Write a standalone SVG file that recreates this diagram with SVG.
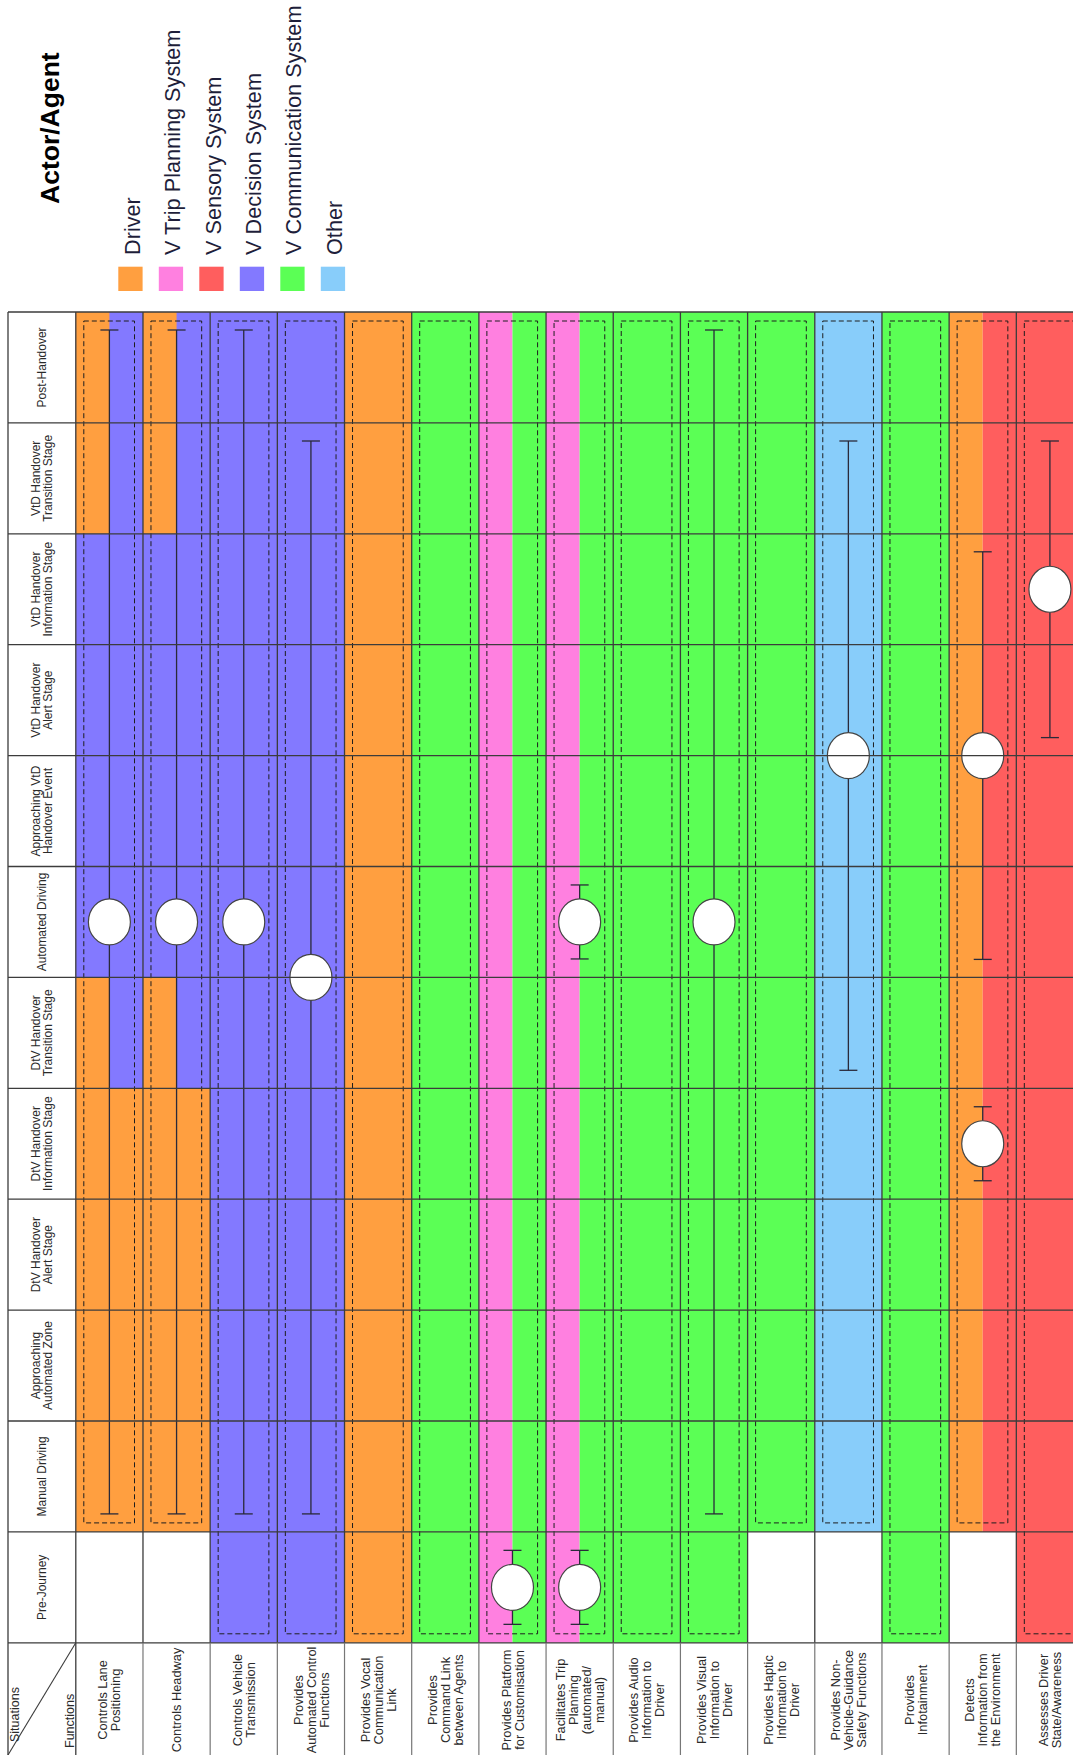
<svg xmlns="http://www.w3.org/2000/svg" width="1073" height="1755" viewBox="0 0 1073 1755">
<style>
.or{fill:#FF9F40}.pk{fill:#FF80E0}.rd{fill:#FF5E5E}.pu{fill:#8379FF}.gr{fill:#5BFF55}.lb{fill:#88CDFA}
.grid{stroke:#3c3c3c;stroke-width:1.3;fill:none}
.hsep{stroke:#777;stroke-width:1.2;fill:none}
.dash{fill:none;stroke:#1e1e1e;stroke-width:1;stroke-dasharray:5,3}
.conn line{stroke:#2a2a3a;stroke-width:1.3}
.mk{fill:#fff;stroke:#444;stroke-width:1.2}
.lg{font-family:"Liberation Sans",Arial,sans-serif;font-size:21.7px;fill:#1e1e3a}
.title{font-family:"Liberation Sans",Arial,sans-serif;font-size:26.5px;font-weight:bold;fill:#000}
.rl{font-family:"Liberation Sans",Arial,sans-serif;font-size:12px;fill:#2a2a2a;text-anchor:middle}
.hl{font-family:"Liberation Sans",Arial,sans-serif;font-size:12.8px;fill:#2a2a2a;text-anchor:middle}
.sf{font-family:"Liberation Sans",Arial,sans-serif;font-size:12.5px;fill:#2a2a2a}
</style>
<rect x="0" y="0" width="1073" height="1755" fill="#fff"/>

<g id="legend">
<text class="title" transform="translate(59,204) rotate(-90)">Actor/Agent</text>
<rect class="or" x="118.3" y="266.7" width="24.3" height="24.3"/>
<rect class="pk" x="158.8" y="266.7" width="24.3" height="24.3"/>
<rect class="rd" x="199.3" y="266.7" width="24.3" height="24.3"/>
<rect class="pu" x="239.8" y="266.7" width="24.3" height="24.3"/>
<rect class="gr" x="280.3" y="266.7" width="24.3" height="24.3"/>
<rect class="lb" x="320.8" y="266.7" width="24.3" height="24.3"/>
<text class="lg" transform="translate(140,255) rotate(-90)">Driver</text>
<text class="lg" transform="translate(180.4,255) rotate(-90)">V Trip Planning System</text>
<text class="lg" transform="translate(220.7,255) rotate(-90)">V Sensory System</text>
<text class="lg" transform="translate(261.1,255) rotate(-90)">V Decision System</text>
<text class="lg" transform="translate(301.4,255) rotate(-90)">V Communication System</text>
<text class="lg" transform="translate(341.7,255) rotate(-90)">Other</text>
</g>

<g id="cells">
<g id="col-lane">
<rect class="pu" x="75.8" y="312" width="67.18" height="776.3"/>
<rect class="or" x="75.8" y="312" width="33.59" height="221.8"/>
<rect class="or" x="75.8" y="977.4" width="33.59" height="110.9"/>
<rect class="or" x="75.8" y="1088.3" width="67.18" height="443.6"/>
</g>
<g id="col-headway">
<rect class="pu" x="142.98" y="312" width="67.18" height="776.3"/>
<rect class="or" x="142.98" y="312" width="33.59" height="221.8"/>
<rect class="or" x="142.98" y="977.4" width="33.59" height="110.9"/>
<rect class="or" x="142.98" y="1088.3" width="67.18" height="443.6"/>
</g>
<rect id="col-transmission" class="pu" x="210.16" y="312" width="67.18" height="1330.8"/>
<rect id="col-automated" class="pu" x="277.34" y="312" width="67.18" height="1330.8"/>
<rect id="col-vocal" class="or" x="344.52" y="312" width="67.18" height="1330.8"/>
<rect id="col-command" class="gr" x="411.7" y="312" width="67.18" height="1330.8"/>
<g id="col-platform">
<rect class="pk" x="478.88" y="312" width="33.59" height="1330.8"/>
<rect class="gr" x="512.47" y="312" width="33.59" height="1330.8"/>
</g>
<g id="col-trip">
<rect class="pk" x="546.06" y="312" width="33.59" height="1330.8"/>
<rect class="gr" x="579.65" y="312" width="33.59" height="1330.8"/>
</g>
<rect id="col-audio" class="gr" x="613.24" y="312" width="67.18" height="1330.8"/>
<rect id="col-visual" class="gr" x="680.42" y="312" width="67.18" height="1330.8"/>
<rect id="col-haptic" class="gr" x="747.6" y="312" width="67.18" height="1219.9"/>
<rect id="col-safety" class="lb" x="814.78" y="312" width="67.18" height="1219.9"/>
<rect id="col-infotainment" class="gr" x="881.96" y="312" width="67.18" height="1330.8"/>
<g id="col-detects">
<rect class="or" x="949.14" y="312" width="33.59" height="1219.9"/>
<rect class="rd" x="982.73" y="312" width="33.59" height="1219.9"/>
</g>
<rect id="col-assesses" class="rd" x="1016.32" y="312" width="67.18" height="1330.8"/>
</g>

<g id="scopes">
<rect class="dash" x="83.8" y="321" width="50.7" height="1201.9"/>
<rect class="dash" x="150.98" y="321" width="50.7" height="1201.9"/>
<rect class="dash" x="218.16" y="321" width="50.7" height="1312.8"/>
<rect class="dash" x="285.34" y="321" width="50.7" height="1312.8"/>
<rect class="dash" x="352.52" y="321" width="50.7" height="1312.8"/>
<rect class="dash" x="419.7" y="321" width="50.7" height="1312.8"/>
<rect class="dash" x="486.88" y="321" width="50.7" height="1312.8"/>
<rect class="dash" x="554.06" y="321" width="50.7" height="1312.8"/>
<rect class="dash" x="621.24" y="321" width="50.7" height="1312.8"/>
<rect class="dash" x="688.42" y="321" width="50.7" height="1312.8"/>
<rect class="dash" x="755.6" y="321" width="50.7" height="1201.9"/>
<rect class="dash" x="822.78" y="321" width="50.7" height="1201.9"/>
<rect class="dash" x="889.96" y="321" width="50.7" height="1312.8"/>
<rect class="dash" x="957.14" y="321" width="50.7" height="1201.9"/>
<rect class="dash" x="1024.32" y="321" width="50.7" height="1312.8"/>
</g>

<g id="connectors" class="conn">
<line x1="109.39" y1="330" x2="109.39" y2="1513.9"/><line x1="100.4" y1="330" x2="118.4" y2="330"/><line x1="100.4" y1="1513.9" x2="118.4" y2="1513.9"/>
<line x1="176.57" y1="330" x2="176.57" y2="1513.9"/><line x1="167.6" y1="330" x2="185.6" y2="330"/><line x1="167.6" y1="1513.9" x2="185.6" y2="1513.9"/>
<line x1="243.75" y1="330" x2="243.75" y2="1513.9"/><line x1="234.75" y1="330" x2="252.75" y2="330"/><line x1="234.75" y1="1513.9" x2="252.75" y2="1513.9"/>
<line x1="310.93" y1="441" x2="310.93" y2="1513.9"/><line x1="301.93" y1="441" x2="319.93" y2="441"/><line x1="301.93" y1="1513.9" x2="319.93" y2="1513.9"/>
<line x1="512.47" y1="1550.35" x2="512.47" y2="1624.35"/><line x1="503.47" y1="1550.35" x2="521.47" y2="1550.35"/><line x1="503.47" y1="1624.35" x2="521.47" y2="1624.35"/>
<line x1="579.65" y1="884.95" x2="579.65" y2="958.95"/><line x1="570.65" y1="884.95" x2="588.65" y2="884.95"/><line x1="570.65" y1="958.95" x2="588.65" y2="958.95"/>
<line x1="579.65" y1="1550.35" x2="579.65" y2="1624.35"/><line x1="570.65" y1="1550.35" x2="588.65" y2="1550.35"/><line x1="570.65" y1="1624.35" x2="588.65" y2="1624.35"/>
<line x1="714.01" y1="330" x2="714.01" y2="1513.9"/><line x1="705.01" y1="330" x2="723.01" y2="330"/><line x1="705.01" y1="1513.9" x2="723.01" y2="1513.9"/>
<line x1="848.37" y1="441" x2="848.37" y2="1070.3"/><line x1="839.37" y1="441" x2="857.37" y2="441"/><line x1="839.37" y1="1070.3" x2="857.37" y2="1070.3"/>
<line x1="982.73" y1="551.8" x2="982.73" y2="959.4"/><line x1="973.73" y1="551.8" x2="991.73" y2="551.8"/><line x1="973.73" y1="959.4" x2="991.73" y2="959.4"/>
<line x1="982.73" y1="1106.75" x2="982.73" y2="1180.75"/><line x1="973.73" y1="1106.75" x2="991.73" y2="1106.75"/><line x1="973.73" y1="1180.75" x2="991.73" y2="1180.75"/>
<line x1="1049.91" y1="441" x2="1049.91" y2="737.6"/><line x1="1040.91" y1="441" x2="1058.91" y2="441"/><line x1="1040.91" y1="737.6" x2="1058.91" y2="737.6"/>
</g>

<g id="markers">
<g id="m-lane"><ellipse class="mk" cx="109.39" cy="921.95" rx="21" ry="23"/></g>
<g id="m-headway"><ellipse class="mk" cx="176.57" cy="921.95" rx="21" ry="23"/></g>
<g id="m-transmission"><ellipse class="mk" cx="243.75" cy="921.95" rx="21" ry="23"/></g>
<g id="m-automated"><ellipse class="mk" cx="310.93" cy="977.4" rx="21" ry="23"/></g>
<g id="m-platform"><ellipse class="mk" cx="512.47" cy="1587.35" rx="21" ry="23"/></g>
<g id="m-trip-auto"><ellipse class="mk" cx="579.65" cy="921.95" rx="21" ry="23"/></g>
<g id="m-trip-pre"><ellipse class="mk" cx="579.65" cy="1587.35" rx="21" ry="23"/></g>
<g id="m-visual"><ellipse class="mk" cx="714.01" cy="921.95" rx="21" ry="23"/></g>
<g id="m-safety"><ellipse class="mk" cx="848.37" cy="755.6" rx="21" ry="23"/></g>
<g id="m-detects-1"><ellipse class="mk" cx="982.73" cy="755.6" rx="21" ry="23"/></g>
<g id="m-detects-2"><ellipse class="mk" cx="982.73" cy="1143.75" rx="21" ry="23"/></g>
<g id="m-assesses"><ellipse class="mk" cx="1049.91" cy="589.25" rx="21" ry="23"/></g>
</g>

<g id="grid">
<path class="grid" d="M8,312H1083.5M8,422.9H1083.5M8,533.8H1083.5M8,644.7H1083.5M8,755.6H1083.5M8,866.5H1083.5M8,977.4H1083.5M8,1088.3H1083.5M8,1199.2H1083.5M8,1310.1H1083.5M8,1421H1083.5M8,1531.9H1083.5M8,1642.8H1083.5"/>
<path class="grid" d="M8,312V1755M75.8,312V1755M142.98,312V1642.8M210.16,312V1642.8M277.34,312V1642.8M344.52,312V1642.8M411.7,312V1642.8M478.88,312V1642.8M546.06,312V1642.8M613.24,312V1642.8M680.42,312V1642.8M747.6,312V1642.8M814.78,312V1642.8M881.96,312V1642.8M949.14,312V1642.8M1016.32,312V1642.8"/>
<path class="hsep" d="M142.98,1642.8V1755M210.16,1642.8V1755M277.34,1642.8V1755M344.52,1642.8V1755M411.7,1642.8V1755M478.88,1642.8V1755M546.06,1642.8V1755M613.24,1642.8V1755M680.42,1642.8V1755M747.6,1642.8V1755M814.78,1642.8V1755M881.96,1642.8V1755M949.14,1642.8V1755M1016.32,1642.8V1755"/>
<line x1="8" y1="1755" x2="75.8" y2="1642.8" stroke="#3c3c3c" stroke-width="1.1"/>
</g>

<g id="row-labels">
<text class="rl" transform="translate(41.5,367.45) rotate(-90)" y="4.3">Post-Handover</text>
<text class="rl" transform="translate(41.5,478.35) rotate(-90)"><tspan x="0" y="-2">VtD Handover</tspan><tspan x="0" y="10.5">Transition Stage</tspan></text>
<text class="rl" transform="translate(41.5,589.25) rotate(-90)"><tspan x="0" y="-2">VtD Handover</tspan><tspan x="0" y="10.5">Information Stage</tspan></text>
<text class="rl" transform="translate(41.5,700.15) rotate(-90)"><tspan x="0" y="-2">VtD Handover</tspan><tspan x="0" y="10.5">Alert Stage</tspan></text>
<text class="rl" transform="translate(41.5,811.05) rotate(-90)"><tspan x="0" y="-2">Approaching VtD</tspan><tspan x="0" y="10.5">Handover Event</tspan></text>
<text class="rl" transform="translate(41.5,921.95) rotate(-90)" y="4.3">Automated Driving</text>
<text class="rl" transform="translate(41.5,1032.85) rotate(-90)"><tspan x="0" y="-2">DtV Handover</tspan><tspan x="0" y="10.5">Transition Stage</tspan></text>
<text class="rl" transform="translate(41.5,1143.75) rotate(-90)"><tspan x="0" y="-2">DtV Handover</tspan><tspan x="0" y="10.5">Information Stage</tspan></text>
<text class="rl" transform="translate(41.5,1254.65) rotate(-90)"><tspan x="0" y="-2">DtV Handover</tspan><tspan x="0" y="10.5">Alert Stage</tspan></text>
<text class="rl" transform="translate(41.5,1365.55) rotate(-90)"><tspan x="0" y="-2">Approaching</tspan><tspan x="0" y="10.5">Automated Zone</tspan></text>
<text class="rl" transform="translate(41.5,1476.45) rotate(-90)" y="4.3">Manual Driving</text>
<text class="rl" transform="translate(41.5,1587.35) rotate(-90)" y="4.3">Pre-Journey</text>
</g>

<g id="col-labels">
<text class="sf" transform="translate(19,1742) rotate(-90)">Situations</text>
<text class="sf" transform="translate(74,1748) rotate(-90)">Functions</text>
<text class="hl" transform="translate(109.39,1700) rotate(-90)"><tspan x="0" y="-1.9">Controls Lane</tspan><tspan x="0" y="11.1">Positioning</tspan></text>
<text class="hl" transform="translate(176.57,1700) rotate(-90)" y="4.6">Controls Headway</text>
<text class="hl" transform="translate(243.75,1700) rotate(-90)"><tspan x="0" y="-1.9">Controls Vehicle</tspan><tspan x="0" y="11.1">Transmission</tspan></text>
<text class="hl" transform="translate(310.93,1700) rotate(-90)"><tspan x="0" y="-8.4">Provides</tspan><tspan x="0" y="4.6">Automated Control</tspan><tspan x="0" y="17.6">Functions</tspan></text>
<text class="hl" transform="translate(378.11,1700) rotate(-90)"><tspan x="0" y="-8.4">Provides Vocal</tspan><tspan x="0" y="4.6">Communication</tspan><tspan x="0" y="17.6">Link</tspan></text>
<text class="hl" transform="translate(445.29,1700) rotate(-90)"><tspan x="0" y="-8.4">Provides</tspan><tspan x="0" y="4.6">Command Link</tspan><tspan x="0" y="17.6">between Agents</tspan></text>
<text class="hl" transform="translate(512.47,1700) rotate(-90)"><tspan x="0" y="-1.9">Provides Platform</tspan><tspan x="0" y="11.1">for Customisation</tspan></text>
<text class="hl" transform="translate(579.65,1700) rotate(-90)"><tspan x="0" y="-14.9">Facilitates Trip</tspan><tspan x="0" y="-1.9">Planning</tspan><tspan x="0" y="11.1">(automated/</tspan><tspan x="0" y="24.1">manual)</tspan></text>
<text class="hl" transform="translate(646.83,1700) rotate(-90)"><tspan x="0" y="-8.4">Provides Audio</tspan><tspan x="0" y="4.6">Information to</tspan><tspan x="0" y="17.6">Driver</tspan></text>
<text class="hl" transform="translate(714.01,1700) rotate(-90)"><tspan x="0" y="-8.4">Provides Visual</tspan><tspan x="0" y="4.6">Information to</tspan><tspan x="0" y="17.6">Driver</tspan></text>
<text class="hl" transform="translate(781.19,1700) rotate(-90)"><tspan x="0" y="-8.4">Provides Haptic</tspan><tspan x="0" y="4.6">Information to</tspan><tspan x="0" y="17.6">Driver</tspan></text>
<text class="hl" transform="translate(848.37,1700) rotate(-90)"><tspan x="0" y="-8.4">Provides Non-</tspan><tspan x="0" y="4.6">Vehicle-Guidance</tspan><tspan x="0" y="17.6">Safety Functions</tspan></text>
<text class="hl" transform="translate(915.55,1700) rotate(-90)"><tspan x="0" y="-1.9">Provides</tspan><tspan x="0" y="11.1">Infotainment</tspan></text>
<text class="hl" transform="translate(982.73,1700) rotate(-90)"><tspan x="0" y="-8.4">Detects</tspan><tspan x="0" y="4.6">Information from</tspan><tspan x="0" y="17.6">the Environment</tspan></text>
<text class="hl" transform="translate(1049.91,1700) rotate(-90)"><tspan x="0" y="-1.9">Assesses Driver</tspan><tspan x="0" y="11.1">State/Awareness</tspan></text>
</g>
</svg>
